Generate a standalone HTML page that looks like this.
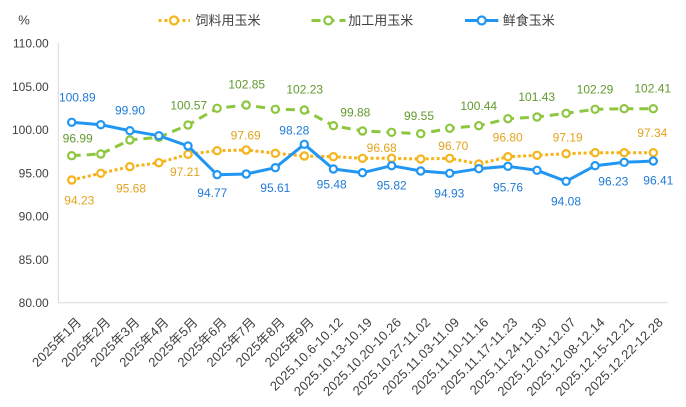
<!DOCTYPE html>
<html>
<head>
<meta charset="utf-8">
<style>
html,body{margin:0;padding:0;background:#fff;}
svg{display:block;}
text{font-family:"Liberation Sans","Noto Sans CJK SC",sans-serif;}
</style>
</head>
<body>
<svg width="686" height="407" viewBox="0 0 686 407" xmlns="http://www.w3.org/2000/svg">
<rect width="686" height="407" fill="#fff"/>
<!-- unit -->
<text x="24" y="24.5" font-size="13" fill="#404040" text-anchor="middle">%</text>
<!-- legend -->
<line x1="158.5" y1="20.5" x2="190" y2="20.5" stroke="#F4B41A" stroke-width="3" stroke-dasharray="3 3"/>
<circle cx="174" cy="20.5" r="4" fill="#fff" stroke="#F4B41A" stroke-width="2.2"/>
<text x="195.5" y="25" font-size="13" fill="#404040">饲料用玉米</text>
<line x1="311.5" y1="20.5" x2="345.5" y2="20.5" stroke="#8DC63F" stroke-width="3" stroke-dasharray="9 5"/>
<circle cx="328.3" cy="20.5" r="4" fill="#fff" stroke="#8DC63F" stroke-width="2.2"/>
<text x="348.3" y="25" font-size="13" fill="#404040">加工用玉米</text>
<line x1="465" y1="20.5" x2="498.3" y2="20.5" stroke="#2196F3" stroke-width="3"/>
<circle cx="481.7" cy="20.5" r="4" fill="#fff" stroke="#2196F3" stroke-width="2.2"/>
<text x="502.7" y="25" font-size="13" fill="#404040">鲜食玉米</text>

<!-- axes -->
<line x1="58.3" y1="43" x2="58.3" y2="302.7" stroke="#d9d9d9" stroke-width="1"/>
<line x1="58.3" y1="302.7" x2="667.7" y2="302.7" stroke="#d9d9d9" stroke-width="1"/>
<g font-size="12" fill="#404040" text-anchor="end">
<text x="48.7" y="47.6">110.00</text>
<text x="48.7" y="90.9">105.00</text>
<text x="48.7" y="134.1">100.00</text>
<text x="48.7" y="177.3">95.00</text>
<text x="48.7" y="220.6">90.00</text>
<text x="48.7" y="263.8">85.00</text>
<text x="48.7" y="307.0">80.00</text>
</g>

<!-- x labels -->
<g font-size="13" fill="#404040" text-anchor="end" letter-spacing="0.15">
<text transform="translate(82.2,323) rotate(-45)">2025年1月</text>
<text transform="translate(111.3,323) rotate(-45)">2025年2月</text>
<text transform="translate(140.4,323) rotate(-45)">2025年3月</text>
<text transform="translate(169.4,323) rotate(-45)">2025年4月</text>
<text transform="translate(198.5,323) rotate(-45)">2025年5月</text>
<text transform="translate(227.6,323) rotate(-45)">2025年6月</text>
<text transform="translate(256.7,323) rotate(-45)">2025年7月</text>
<text transform="translate(285.8,323) rotate(-45)">2025年8月</text>
<text transform="translate(314.8,323) rotate(-45)">2025年9月</text>
<text transform="translate(343.9,323) rotate(-45)">2025.10.6-10.12</text>
<text transform="translate(373.0,323) rotate(-45)">2025.10.13-10.19</text>
<text transform="translate(402.1,323) rotate(-45)">2025.10.20-10.26</text>
<text transform="translate(431.2,323) rotate(-45)">2025.10.27-11.02</text>
<text transform="translate(460.2,323) rotate(-45)">2025.11.03-11.09</text>
<text transform="translate(489.3,323) rotate(-45)">2025.11.10-11.16</text>
<text transform="translate(518.4,323) rotate(-45)">2025.11.17-11.23</text>
<text transform="translate(547.5,323) rotate(-45)">2025.11.24-11.30</text>
<text transform="translate(576.6,323) rotate(-45)">2025.12.01-12.07</text>
<text transform="translate(605.6,323) rotate(-45)">2025.12.08-12.14</text>
<text transform="translate(634.7,323) rotate(-45)">2025.12.15-12.21</text>
<text transform="translate(663.8,323) rotate(-45)">2025.12.22-12.28</text>
</g>

<!-- series lines -->
<polyline fill="none" stroke="#F4B41A" stroke-width="3" stroke-dasharray="3 2.5" points="71.7,180 100.8,173.3 129.9,166.7 158.9,162.7 188,154.3 217.1,150.7 246.2,150 275.3,153.3 304.3,156 333.4,156.7 362.5,158.3 391.6,158.3 420.7,159 449.7,158.3 478.8,164 507.9,156.7 537,155.3 566.1,153.7 595.1,152.7 624.2,152.7 653.3,152.7"/>
<polyline fill="none" stroke="#8DC63F" stroke-width="3" stroke-dasharray="9 6" points="71.7,155.7 100.8,154 129.9,140 158.9,137.3 188,125 217.1,108.3 246.2,105 275.3,109.3 304.3,110 333.4,125.7 362.5,131 391.6,132.3 420.7,133.7 449.7,128.3 478.8,125.7 507.9,118.7 537,117 566.1,113.3 595.1,109.3 624.2,108.7 653.3,108.7"/>
<polyline fill="none" stroke="#2196F3" stroke-width="3" stroke-linejoin="round" points="71.7,122.3 100.8,124.7 129.9,130.7 158.9,135.7 188,146 217.1,174.7 246.2,174 275.3,167.7 304.3,144.3 333.4,169 362.5,172.7 391.6,165.7 420.7,171 449.7,173.3 478.8,168.7 507.9,166.3 537,170.3 566.1,181.3 595.1,165.7 624.2,162.3 653.3,161"/>

<!-- markers -->
<g fill="#fff" stroke="#F4B41A" stroke-width="2.2">
<circle cx="71.7" cy="180" r="3.6"/><circle cx="100.8" cy="173.3" r="3.6"/><circle cx="129.9" cy="166.7" r="3.6"/><circle cx="158.9" cy="162.7" r="3.6"/><circle cx="188" cy="154.3" r="3.6"/><circle cx="217.1" cy="150.7" r="3.6"/><circle cx="246.2" cy="150" r="3.6"/><circle cx="275.3" cy="153.3" r="3.6"/><circle cx="304.3" cy="156" r="3.6"/><circle cx="333.4" cy="156.7" r="3.6"/><circle cx="362.5" cy="158.3" r="3.6"/><circle cx="391.6" cy="158.3" r="3.6"/><circle cx="420.7" cy="159" r="3.6"/><circle cx="449.7" cy="158.3" r="3.6"/><circle cx="478.8" cy="164" r="3.6"/><circle cx="507.9" cy="156.7" r="3.6"/><circle cx="537" cy="155.3" r="3.6"/><circle cx="566.1" cy="153.7" r="3.6"/><circle cx="595.1" cy="152.7" r="3.6"/><circle cx="624.2" cy="152.7" r="3.6"/><circle cx="653.3" cy="152.7" r="3.6"/>
</g>
<g fill="#fff" stroke="#8DC63F" stroke-width="2.2">
<circle cx="71.7" cy="155.7" r="3.6"/><circle cx="100.8" cy="154" r="3.6"/><circle cx="129.9" cy="140" r="3.6"/><circle cx="158.9" cy="137.3" r="3.6"/><circle cx="188" cy="125" r="3.6"/><circle cx="217.1" cy="108.3" r="3.6"/><circle cx="246.2" cy="105" r="3.6"/><circle cx="275.3" cy="109.3" r="3.6"/><circle cx="304.3" cy="110" r="3.6"/><circle cx="333.4" cy="125.7" r="3.6"/><circle cx="362.5" cy="131" r="3.6"/><circle cx="391.6" cy="132.3" r="3.6"/><circle cx="420.7" cy="133.7" r="3.6"/><circle cx="449.7" cy="128.3" r="3.6"/><circle cx="478.8" cy="125.7" r="3.6"/><circle cx="507.9" cy="118.7" r="3.6"/><circle cx="537" cy="117" r="3.6"/><circle cx="566.1" cy="113.3" r="3.6"/><circle cx="595.1" cy="109.3" r="3.6"/><circle cx="624.2" cy="108.7" r="3.6"/><circle cx="653.3" cy="108.7" r="3.6"/>
</g>
<g fill="#fff" stroke="#2196F3" stroke-width="2.2">
<circle cx="71.7" cy="122.3" r="3.6"/><circle cx="100.8" cy="124.7" r="3.6"/><circle cx="129.9" cy="130.7" r="3.6"/><circle cx="158.9" cy="135.7" r="3.6"/><circle cx="188" cy="146" r="3.6"/><circle cx="217.1" cy="174.7" r="3.6"/><circle cx="246.2" cy="174" r="3.6"/><circle cx="275.3" cy="167.7" r="3.6"/><circle cx="304.3" cy="144.3" r="3.6"/><circle cx="333.4" cy="169" r="3.6"/><circle cx="362.5" cy="172.7" r="3.6"/><circle cx="391.6" cy="165.7" r="3.6"/><circle cx="420.7" cy="171" r="3.6"/><circle cx="449.7" cy="173.3" r="3.6"/><circle cx="478.8" cy="168.7" r="3.6"/><circle cx="507.9" cy="166.3" r="3.6"/><circle cx="537" cy="170.3" r="3.6"/><circle cx="566.1" cy="181.3" r="3.6"/><circle cx="595.1" cy="165.7" r="3.6"/><circle cx="624.2" cy="162.3" r="3.6"/><circle cx="653.3" cy="161" r="3.6"/>
</g>

<!-- data labels -->
<g font-size="12" text-anchor="middle" fill="#1F7BD6">
<text x="77.3" y="101.6">100.89</text>
<text x="130" y="114.3">99.90</text>
<text x="212.3" y="197">94.77</text>
<text x="275.3" y="192">95.61</text>
<text x="294.3" y="134.3">98.28</text>
<text x="331.7" y="188.3">95.48</text>
<text x="391.7" y="189.3">95.82</text>
<text x="449.3" y="197.6">94.93</text>
<text x="508" y="191.6">95.76</text>
<text x="566" y="205.3">94.08</text>
<text x="613.3" y="185.3">96.23</text>
<text x="658.3" y="184.6">96.41</text>
</g>
<g font-size="12" text-anchor="middle" fill="#629A2E">
<text x="77.7" y="142.6">96.99</text>
<text x="188.7" y="109.3">100.57</text>
<text x="246.7" y="88.6">102.85</text>
<text x="304.7" y="93.6">102.23</text>
<text x="355.3" y="116.6">99.88</text>
<text x="419" y="120">99.55</text>
<text x="478.7" y="110">100.44</text>
<text x="536.7" y="101">101.43</text>
<text x="595" y="93.6">102.29</text>
<text x="652.7" y="92.6">102.41</text>
</g>
<g font-size="12" text-anchor="middle" fill="#E3A31E">
<text x="79.3" y="204.3">94.23</text>
<text x="131" y="192.6">95.68</text>
<text x="185" y="176">97.21</text>
<text x="245.7" y="139.3">97.69</text>
<text x="381.7" y="152">96.68</text>
<text x="453.3" y="150">96.70</text>
<text x="507.7" y="141.6">96.80</text>
<text x="567.7" y="141.3">97.19</text>
<text x="652.3" y="137">97.34</text>
</g>
</svg>
</body>
</html>
